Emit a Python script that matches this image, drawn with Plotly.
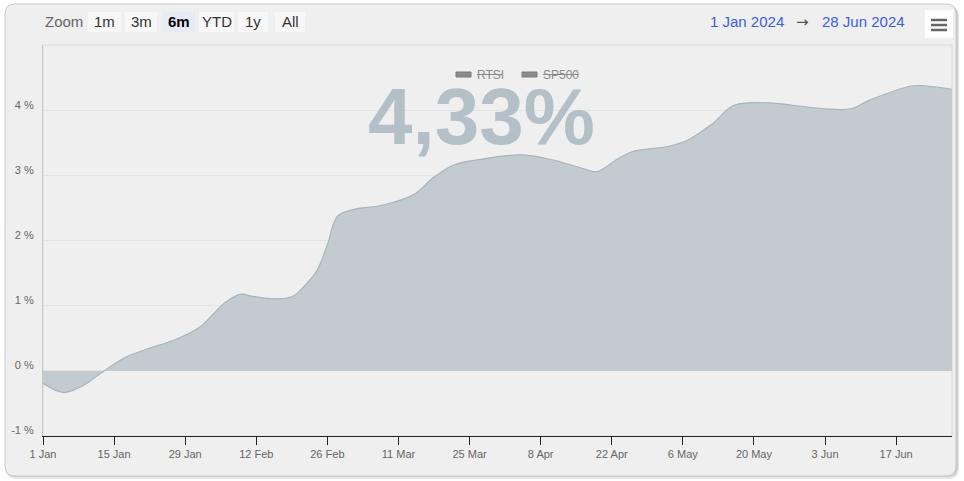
import plotly.graph_objects as go

# ---------------- data ----------------
dates = ['2024-01-01', '2024-01-05', '2024-01-09', '2024-01-13', '2024-01-17', '2024-01-22',
         '2024-01-27', '2024-02-01', '2024-02-03', '2024-02-06', '2024-02-09', '2024-02-11',
         '2024-02-15', '2024-02-19', '2024-02-22', '2024-02-24', '2024-02-26', '2024-02-28',
         '2024-03-02', '2024-03-08', '2024-03-14', '2024-03-18', '2024-03-22', '2024-03-27',
         '2024-04-04', '2024-04-10', '2024-04-16', '2024-04-19', '2024-04-23', '2024-04-26',
         '2024-05-03', '2024-05-07', '2024-05-12', '2024-05-16', '2024-05-23', '2024-05-28',
         '2024-06-03', '2024-06-08', '2024-06-12', '2024-06-20', '2024-06-23', '2024-06-28']
values = [-0.19, -0.33, -0.22, 0.0, 0.2, 0.35,
          0.48, 0.68, 0.83, 1.06, 1.18, 1.15,
          1.11, 1.14, 1.35, 1.55, 1.94, 2.38,
          2.48, 2.55, 2.71, 2.98, 3.17, 3.25,
          3.32, 3.25, 3.12, 3.06, 3.25, 3.37,
          3.45, 3.55, 3.81, 4.08, 4.12, 4.08,
          4.03, 4.03, 4.17, 4.38, 4.38, 4.33]
y_tickvals = [-1, 0, 1, 2, 3, 4]
y_ticktext = ['-1 %', '0 %', '1 %', '2 %', '3 %', '4 %']
big_label = '4,33%'
legend_names = ['RTSI', 'SP500']
zoom_buttons = ['1m', '3m', '6m', 'YTD', '1y', 'All']
selected_button = '6m'
range_start = '1 Jan 2024'
range_end = '28 Jun 2024'

# ---------------- geometry helpers (pixel -> paper) ----------------
W, H = 964, 481
L, R, T, B = 43, 952, 45, 436


def px(x):
    return (x - L) / (R - L)


def py(y):
    return (B - y) / (B - T)


def rounded_path(x0, y0, x1, y1, r):
    X0, X1 = px(x0), px(x1)
    Y0, Y1 = py(y0), py(y1)
    rx = r / (R - L)
    ry = r / (B - T)
    return (f"M {X0+rx},{Y0} L {X1-rx},{Y0} Q {X1},{Y0} {X1},{Y0-ry} "
            f"L {X1},{Y1+ry} Q {X1},{Y1} {X1-rx},{Y1} L {X0+rx},{Y1} "
            f"Q {X0},{Y1} {X0},{Y1+ry} L {X0},{Y0-ry} Q {X0},{Y0} {X0+rx},{Y0} Z")


FONT = 'Liberation Sans, Arial, Helvetica, sans-serif'

fig = go.Figure()
fig.add_trace(go.Scatter(
    x=dates, y=values, mode='lines', fill='tozeroy',
    line=dict(color='#a7b4bc', width=1.2, shape='spline', smoothing=1.0),
    fillcolor='#c3cbd1', hoverinfo='skip', showlegend=False,
))

shapes = []
# shadow + outer rounded box
shapes.append(dict(type='path', xref='paper', yref='paper', layer='below',
                   path=rounded_path(6, 6, 959, 479, 11), fillcolor='rgba(0,0,0,0.10)',
                   line=dict(width=0)))
shapes.append(dict(type='path', xref='paper', yref='paper', layer='below',
                   path=rounded_path(5, 5, 958, 477, 11), fillcolor='rgba(0,0,0,0.10)',
                   line=dict(width=0)))
shapes.append(dict(type='path', xref='paper', yref='paper', layer='below',
                   path=rounded_path(5, 4, 956, 476, 10), fillcolor='#efefef',
                   line=dict(color='#c9c9c9', width=1)))
# plot area border
shapes.append(dict(type='rect', xref='paper', yref='paper', layer='below',
                   x0=0, x1=1, y0=0, y1=1, line=dict(color='#dadada', width=1)))

annotations = []
# big value label
annotations.append(dict(xref='paper', yref='paper', x=px(481), y=py(116), text=big_label,
                        showarrow=False, xanchor='center', yanchor='middle',
                        font=dict(family=FONT, size=80, color='#b3c0c7', weight='bold')))

# legend (hidden series, struck through)
leg_sym = [(456, 471), (522, 537)]
leg_txt = [(477, 503), (543, 578)]
for name, (sx0, sx1), (tx0, tx1) in zip(legend_names, leg_sym, leg_txt):
    shapes.append(dict(type='rect', xref='paper', yref='paper', x0=px(sx0), x1=px(sx1),
                       y0=py(77), y1=py(72), fillcolor='#8c8c8c', line=dict(color='#7a7a7a', width=1)))
    annotations.append(dict(xref='paper', yref='paper', x=px((tx0 + tx1) / 2), y=py(75), text=name,
                            showarrow=False, xanchor='center', yanchor='middle',
                            font=dict(family=FONT, size=12, color='#8a8a8a')))
    shapes.append(dict(type='line', xref='paper', yref='paper', x0=px(tx0), x1=px(tx1),
                       y0=py(74.5), y1=py(74.5), line=dict(color='#8a8a8a', width=1)))

# range selector
annotations.append(dict(xref='paper', yref='paper', x=px(43), y=py(22), text='Zoom',
                        showarrow=False, xanchor='left', yanchor='middle',
                        font=dict(family=FONT, size=15, color='#666666')))
btn_x = [(88, 121), (125, 157), (163, 195), (199, 234), (238, 268), (275, 305)]
for lab, (bx0, bx1) in zip(zoom_buttons, btn_x):
    sel = lab == selected_button
    shapes.append(dict(type='rect', xref='paper', yref='paper', x0=px(bx0), x1=px(bx1),
                       y0=py(32), y1=py(12), fillcolor='#e6ebf5' if sel else '#f7f7f7',
                       line=dict(width=0)))
    annotations.append(dict(xref='paper', yref='paper', x=px((bx0 + bx1) / 2), y=py(22),
                            text=f'<b>{lab}</b>' if sel else lab,
                            showarrow=False, xanchor='center', yanchor='middle',
                            font=dict(family=FONT, size=15, color='#000000' if sel else '#333333')))

# date range inputs
annotations.append(dict(xref='paper', yref='paper', x=px(786), y=py(22), text=range_start,
                        showarrow=False, xanchor='right', yanchor='middle',
                        font=dict(family=FONT, size=15, color='#3b5ee6')))
annotations.append(dict(xref='paper', yref='paper', x=px(802), y=py(22), text='→',
                        showarrow=False, xanchor='center', yanchor='middle',
                        font=dict(family='DejaVu Sans', size=15, color='#555555')))
annotations.append(dict(xref='paper', yref='paper', x=px(820), y=py(22), text=range_end,
                        showarrow=False, xanchor='left', yanchor='middle',
                        font=dict(family=FONT, size=15, color='#3b5ee6')))

# hamburger menu
shapes.append(dict(type='rect', xref='paper', yref='paper', x0=px(925), x1=px(953),
                   y0=py(38), y1=py(10), fillcolor='#ffffff', line=dict(width=0)))
for ly in (20, 25, 30):
    shapes.append(dict(type='line', xref='paper', yref='paper', x0=px(931), x1=px(947),
                       y0=py(ly), y1=py(ly), line=dict(color='#666666', width=2.5)))

fig.update_layout(
    width=W, height=H,
    margin=dict(l=L, r=W - R, t=T, b=H - B, pad=0),
    paper_bgcolor='#ffffff', plot_bgcolor='rgba(0,0,0,0)',
    showlegend=False, hovermode=False,
    shapes=shapes, annotations=annotations,
    font=dict(family=FONT),
    xaxis=dict(type='date', range=['2024-01-01', '2024-06-28'],
               tick0='2024-01-01', dtick=14 * 86400000, tickformat='%-d %b',
               showgrid=False, zeroline=False, showline=True, linecolor='#222222', linewidth=1,
               ticks='outside', ticklen=8, tickcolor='#222222', tickwidth=1,
               tickfont=dict(size=11, color='#666666', family=FONT), fixedrange=True),
    yaxis=dict(range=[-1, 5.01], tickvals=y_tickvals, ticktext=y_ticktext,
               showgrid=True, gridcolor='#e4e4e4', gridwidth=1, zeroline=False,
               showline=True, linecolor='#c8c8c8', linewidth=1,
               ticks='', ticklabelshift=-6, ticklabelstandoff=6,
               tickfont=dict(size=11, color='#666666', family=FONT), fixedrange=True),
)

fig.write_html('out.html', config={'displayModeBar': False})
